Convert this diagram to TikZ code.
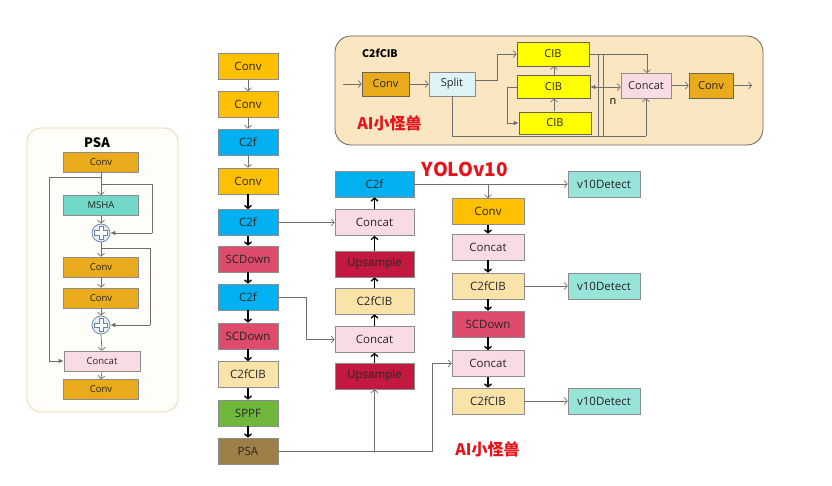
\documentclass[tikz,border=0pt]{standalone}
\usepackage{fontspec}
\setmainfont{Open Sans}
\newfontfamily\cjk{Noto Sans CJK SC}
\usetikzlibrary{arrows.meta}

\definecolor{convc}{HTML}{FFC000}
\definecolor{convd}{HTML}{E9AA1C}
\definecolor{c2fc}{HTML}{00B0F0}
\definecolor{scdc}{HTML}{DF4B6A}
\definecolor{cibc}{HTML}{FAE3A8}
\definecolor{sppfc}{HTML}{70B83C}
\definecolor{psac}{HTML}{9E7F48}
\definecolor{catc}{HTML}{F9DCE3}
\definecolor{upc}{HTML}{C3183F}
\definecolor{detc}{HTML}{98E3DA}
\definecolor{mshac}{HTML}{72D8C8}
\definecolor{splitc}{HTML}{DDF3F6}
\definecolor{yelc}{HTML}{FFFF00}
\definecolor{edge}{HTML}{8C8C8C}
\definecolor{wire}{HTML}{6E6E6E}
\definecolor{panelA}{HTML}{FFFDF8}
\definecolor{panelAd}{HTML}{E6D8B0}
\definecolor{panelB}{HTML}{FBE6C2}
\definecolor{panelBd}{HTML}{6A6358}
\definecolor{redt}{HTML}{E8121A}
\definecolor{plusd}{HTML}{6A84A6}
\definecolor{plusf}{HTML}{E6EDF5}
\definecolor{inkc}{HTML}{262626}

\tikzset{
  blk/.style={draw=edge, line width=0.6pt, inner sep=0pt, text=inkc, font=\fontsize{11.5}{13}\selectfont},
  mainbox/.style={blk, minimum width=60pt, minimum height=26pt},
  midbox/.style={blk, minimum width=79pt, minimum height=26pt},
  rbox/.style={blk, minimum width=72pt, minimum height=26pt},
  psabox/.style={blk, minimum width=75pt, minimum height=20pt, font=\fontsize{9.5}{11}\selectfont},
  cibbox/.style={blk, draw=panelBd, font=\fontsize{11}{12}\selectfont},
  thin/.style={draw=wire, line width=0.7pt, -{Straight Barb[length=3pt,width=7pt]}},
  thick/.style={draw=black, line width=1.3pt, -{Straight Barb[length=3pt,width=7pt]}},
  filled/.style={draw=wire, line width=0.7pt, -{Latex[length=5pt,width=4.5pt]}},
  plain/.style={draw=wire, line width=0.7pt},
  redlabel/.style={text=redt, font=\cjk\bfseries\fontsize{16}{18}\selectfont, inner sep=0pt},
}

\begin{document}
\begin{tikzpicture}[x=1pt,y=-1pt]
\useasboundingbox (0,0) rectangle (832,486);
\fill[white] (0,0) rectangle (832,486);

% ---------------- PSA block ----------------
\draw[draw=panelAd, fill=panelA, line width=0.8pt, rounded corners=14pt] (27,128) rectangle (178,412);
\node[font=\cjk\bfseries\fontsize{13}{15}\selectfont, inner sep=0pt] (psatitle) at (97,143) {PSA};
\node[psabox, fill=convd] (p1) at (101,162) {Conv};
\node[psabox, fill=mshac] (p2) at (101,205.5) {MSHA};
\node[circle, draw=plusd, fill=plusf, line width=0.7pt, minimum size=18pt, inner sep=0pt] (s1) at (101,233) {};
\node[psabox, fill=convd] (p3) at (101,267) {Conv};
\node[psabox, fill=convd] (p4) at (101,298) {Conv};
\node[circle, draw=plusd, fill=plusf, line width=0.7pt, minimum size=18pt, inner sep=0pt] (s2) at (101,325) {};
\node[psabox, fill=catc, minimum width=76pt] (p5) at (102,361) {Concat};
\node[psabox, fill=convd] (p6) at (101,389.5) {Conv};
% plus signs inside the adders
\foreach \s in {s1,s2}{
  \draw[draw=plusd, fill=white, line width=0.6pt, shift={(\s.center)}]
    (-2.2,-6.5) -- (2.2,-6.5) -- (2.2,-2.2) -- (6.5,-2.2) -- (6.5,2.2) -- (2.2,2.2)
    -- (2.2,6.5) -- (-2.2,6.5) -- (-2.2,2.2) -- (-6.5,2.2) -- (-6.5,-2.2) -- (-2.2,-2.2) -- cycle;
}
\coordinate (pa) at (101,177);
\coordinate (pb) at (101,184);
\coordinate (pc) at (101,248);
\draw[thin] (p1.south) -- (p2.north);
\draw[plain] (pa) -- (49,177) -- (49,361);
\draw[filled] (49,361) -- (p5.west);
\draw[plain] (pb) -- (152,184) -- (152,233);
\draw[filled] (152,233) -- (s1.east);
\draw[thin] (p2.south) -- (s1.north);
\draw[thin] (s1.south) -- (p3.north);
\draw[plain] (pc) -- (150,248) -- (150,325);
\draw[filled] (150,325) -- (s2.east);
\draw[thin] (p3.south) -- (p4.north);
\draw[thin] (p4.south) -- (s2.north);
\draw[thin] (s2.south) -- (p5.north);
\draw[thin] (p5.south) -- (p6.north);

% ---------------- C2fCIB block ----------------
\draw[draw=panelBd, fill=panelB, line width=0.8pt, rounded corners=16pt] (335,36) rectangle (763,145);
\node[font=\cjk\bfseries\fontsize{10.5}{12}\selectfont, inner sep=0pt] (ktitle) at (380,53) {C2fCIB};
\node[cibbox, fill=convd, minimum width=47pt, minimum height=24pt] (k1) at (385.5,84) {Conv};
\node[cibbox, draw=edge, fill=splitc, minimum width=46pt, minimum height=24pt] (k2) at (452,84) {Split};
\node[cibbox, fill=yelc, minimum width=72pt, minimum height=24pt] (cib1) at (553,54) {CIB};
\node[cibbox, fill=yelc, minimum width=73pt, minimum height=23pt] (cib2) at (553.5,87) {CIB};
\node[cibbox, fill=yelc, minimum width=72pt, minimum height=22pt] (cib3) at (555,123) {CIB};
\node[cibbox, draw=edge, fill=catc, minimum width=50pt, minimum height=25pt] (kc) at (646,85.5) {Concat};
\node[cibbox, fill=convd, minimum width=44pt, minimum height=25pt] (k3) at (711,85.5) {Conv};
\node[font=\fontsize{11}{12}\selectfont, inner sep=0pt] (nlab) at (613,102) {n};
\node[redlabel] (wm1) at (389.5,123) {AI小怪兽};
\coordinate (kin) at (343,84);
\coordinate (kout) at (752,85.5);
\draw[thin] (kin) -- (k1.west);
\draw[thin] (k1.east) -- (k2.west);
\draw[plain] (475,80) -- (497,80) -- (497,54);
\draw[thin] (497,54) -- (cib1.west);
\draw[plain] (cib1.east) -- (647,54);
\draw[thin] (647,54) -- (647,73);
\draw[plain] (598,54) -- (598,136);
\draw[plain] (603,54) -- (603,136);
\draw[plain] (k2.south) -- (452,136) -- (646,136);
\draw[thin] (646,136) -- (kc.south);
\draw[draw=wire, line width=0.7pt, {Latex[length=5pt,width=4.5pt]}-{Straight Barb[length=3pt,width=7pt]}] (cib2.east) -- (cib2.east -| kc.west);
\draw[plain] (cib2.west) -- (507,87) -- (507,123);
\draw[filled] (507,123) -- (cib3.west);
\draw[thin] (554,111.5) -- (554,98.5);
\draw[thin] (554,75.5) -- (554,66);
\draw[thin] (kc.east) -- (k3.west);
\draw[thin] (k3.east) -- (kout);

% ---------------- backbone ----------------
\node[mainbox, fill=convc] (m1) at (248,66) {Conv};
\node[mainbox, fill=convc] (m2) at (248,104.5) {Conv};
\node[mainbox, fill=c2fc] (m3) at (248,142) {C2f};
\node[mainbox, fill=convc] (m4) at (248,181) {Conv};
\node[mainbox, fill=c2fc] (m5) at (248,222.5) {C2f};
\node[mainbox, fill=scdc] (m6) at (248,259) {SCDown};
\node[mainbox, fill=c2fc] (m7) at (248,297) {C2f};
\node[mainbox, fill=scdc] (m8) at (248,336) {SCDown};
\node[mainbox, fill=cibc] (m9) at (248,374.5) {C2fCIB};
\node[mainbox, fill=sppfc] (m10) at (248,413) {SPPF};
\node[mainbox, fill=psac] (m11) at (248,451) {PSA};
\draw[thin] (m1) -- (m2);
\draw[thin] (m2) -- (m3);
\draw[thin] (m3) -- (m4);
\draw[thick] (m4) -- (m5);
\draw[thick] (m5) -- (m6);
\draw[thick] (m6) -- (m7);
\draw[thick] (m7) -- (m8);
\draw[thick] (m8) -- (m9);
\draw[thick] (m9) -- (m10);
\draw[thick] (m10) -- (m11);

% ---------------- neck (upward path) ----------------
\node[midbox, fill=c2fc] (c1) at (374.5,184) {C2f};
\node[midbox, fill=catc] (c2) at (374.5,222.5) {Concat};
\node[midbox, fill=upc] (c3) at (374.5,264) {Upsample};
\node[midbox, fill=cibc] (c4) at (374.5,301) {C2fCIB};
\node[midbox, fill=catc] (c5) at (374.5,339.5) {Concat};
\node[midbox, fill=upc] (c6) at (374.5,376) {Upsample};
\draw[thick] (c6) -- (c5);
\draw[thick] (c5) -- (c4);
\draw[thick] (c4) -- (c3);
\draw[thick] (c3) -- (c2);
\draw[thick] (c2) -- (c1);

% ---------------- neck (downward path) ----------------
\node[rbox, fill=convc] (r1) at (488,211.5) {Conv};
\node[rbox, fill=catc] (r2) at (488,247) {Concat};
\node[rbox, fill=cibc] (r3) at (488,286) {C2fCIB};
\node[rbox, fill=scdc] (r4) at (488,324) {SCDown};
\node[rbox, fill=catc] (r5) at (488,363.5) {Concat};
\node[rbox, fill=cibc] (r6) at (488,401) {C2fCIB};
\draw[thick] (r1) -- (r2);
\draw[thick] (r2) -- (r3);
\draw[thick] (r3) -- (r4);
\draw[thick] (r4) -- (r5);
\draw[thick] (r5) -- (r6);

% ---------------- heads ----------------
\node[rbox, fill=detc] (d1) at (604,184) {v10Detect};
\node[rbox, fill=detc] (d2) at (604,286) {v10Detect};
\node[rbox, fill=detc] (d3) at (604,401) {v10Detect};

% ---------------- cross connections ----------------
\draw[thin] (m5.east) -- (c2.west);
\draw[plain] (m7.east) -- (306,297) -- (306,339.5);
\draw[thin] (306,339.5) -- (c5.west);
\draw[plain] (m11.east) -- (432,451) -- (432,363.5);
\draw[thin] (432,363.5) -- (r5.west);
\draw[thin] (c6.south |- m11.east) -- (c6.south);
\draw[thin] (c1.east) -- (d1.west);
\draw[thin] (r1.north |- c1.east) -- (r1.north);
\draw[thin] (r3.east) -- (d2.west);
\draw[thin] (r6.east) -- (d3.west);

% ---------------- titles ----------------
\node[text=redt, font=\cjk\bfseries\fontsize{19}{21}\selectfont, inner sep=0pt] (yolo) at (465,169) {YOLOv10};
\node[redlabel] (wm2) at (487.5,449) {AI小怪兽};
\end{tikzpicture}
\end{document}
